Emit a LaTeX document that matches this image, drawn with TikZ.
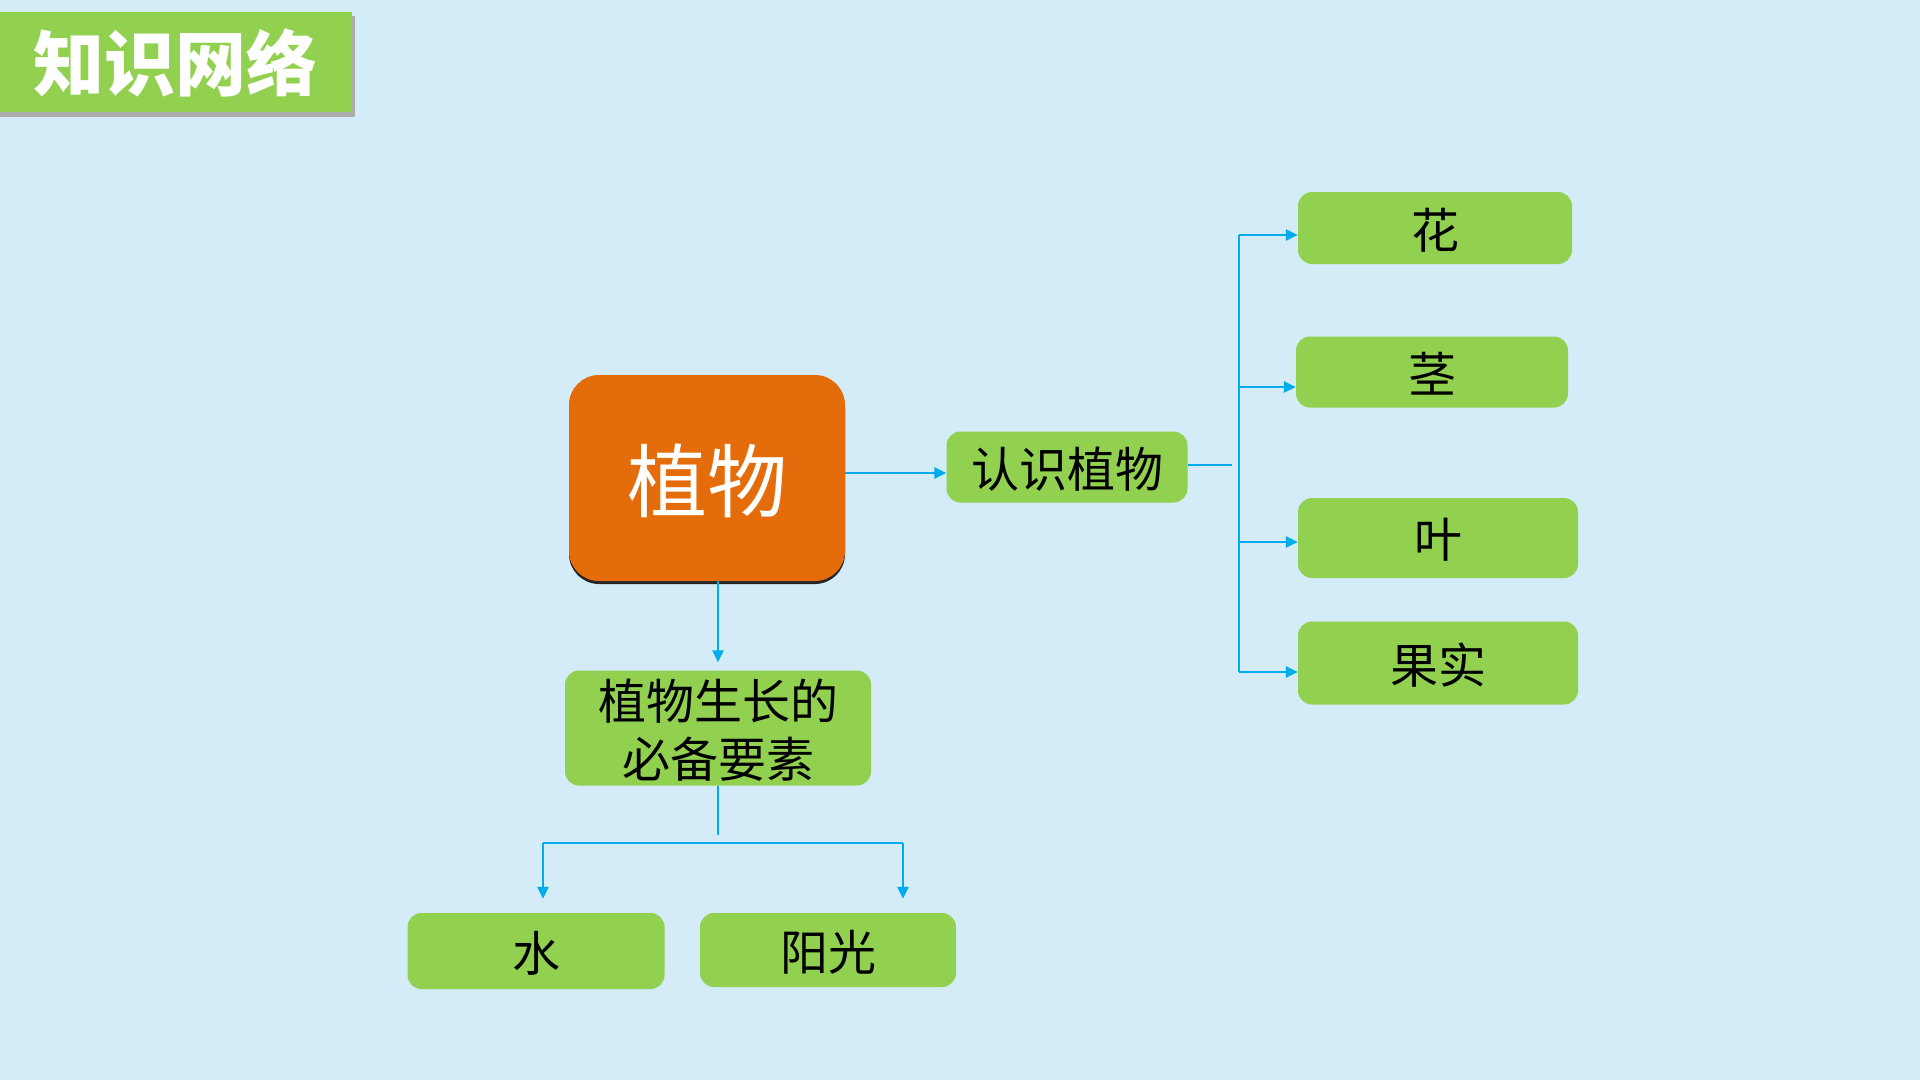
\documentclass[tikz,border=0pt]{standalone}
\usepackage{fontspec}
\setmainfont{Noto Sans CJK SC}
\newfontfamily\cjk{Noto Sans CJK SC}
\usetikzlibrary{arrows.meta,shadows}
\definecolor{bgblue}{RGB}{211,236,248}
\definecolor{leafgreen}{RGB}{146,208,80}
\definecolor{plantorange}{RGB}{228,108,10}
\definecolor{linkblue}{RGB}{0,172,236}
\tikzset{
  itembox/.style={fill=leafgreen, rounded corners=14pt, inner sep=0pt, text=black,
    align=center, text depth=0pt, font=\cjk\fontsize{48}{58}\selectfont},
  link/.style={draw=linkblue, line width=2.6pt},
  linkarrow/.style={link, -{Triangle[length=12pt,width=11pt]}},
}
\begin{document}
\begin{tikzpicture}[x=1pt,y=-1pt]
    \useasboundingbox (0,0) rectangle (1920,1080);
    \fill[bgblue] (0,0) rectangle (1920,1080);

    % Title tab
    \fill[gray!65] (0,16) rectangle (355,117);
    \fill[leafgreen] (0,12) rectangle (352,112);
    \node[text=white, font=\cjk\bfseries\fontsize{71}{80}\selectfont] (title) at (176,63) {知识网络};

    % Central node
    \node[fill=plantorange, rounded corners=30pt, minimum width=276pt, minimum height=206pt,
      text=white, text depth=0pt, font=\cjk\fontsize{80}{90}\selectfont,
      drop shadow={shadow xshift=0pt, shadow yshift=-3pt, fill=black!85, opacity=1}]
      (plant) at (707,478) {植物};

    % Branch: knowing plants
    \node[itembox, minimum width=241pt, minimum height=71pt] (know) at (1067,467) {认识植物};
    \node[itembox, minimum width=274pt, minimum height=72pt] (flower) at (1435,228) {花};
    \node[itembox, minimum width=272pt, minimum height=71pt] (stem) at (1432,372) {茎};
    \node[itembox, minimum width=280pt, minimum height=80pt] (leaf) at (1438,538) {叶};
    \node[itembox, minimum width=280pt, minimum height=83pt] (fruit) at (1438,663) {果实};

    % Branch: growth needs
    \node[itembox, minimum width=306pt, minimum height=115pt] (growth) at (718,728) {植物生长的\\必备要素};
    \node[itembox, minimum width=257pt, minimum height=76pt] (water) at (536,951) {水};
    \node[itembox, minimum width=256pt, minimum height=74pt] (sun) at (828,950) {阳光};

    % Connectors right
    \draw[linkarrow] (plant.east |- 0,473) -- (know.west |- 0,473);
    \coordinate (knowtip) at (1232,465);
    \coordinate (b1) at (1239,235);
    \coordinate (b2) at (1239,387);
    \coordinate (b3) at (1239,542);
    \coordinate (b4) at (1239,672);
    \draw[link] (know.east |- knowtip) -- (knowtip);
    \draw[link] (b1) -- (b4);
    \draw[linkarrow] (b1) -- (b1 -| flower.west);
    \draw[linkarrow] (b2) -- (b2 -| stem.west);
    \draw[linkarrow] (b3) -- (b3 -| leaf.west);
    \draw[linkarrow] (b4) -- (b4 -| fruit.west);

    % Connectors down
    \draw[linkarrow, shorten >=8pt] (plant.south -| growth.north) -- (growth.north);
    \coordinate (gtip) at (718,835);
    \coordinate (hl) at (543,843);
    \coordinate (hr) at (903,843);
    \draw[link] (growth.south) -- (gtip);
    \draw[link] (hl) -- (hr);
    \draw[linkarrow, shorten >=14pt] (hl) -- (hl |- water.north);
    \draw[linkarrow, shorten >=14pt] (hr) -- (hr |- sun.north);
\end{tikzpicture}
\end{document}
